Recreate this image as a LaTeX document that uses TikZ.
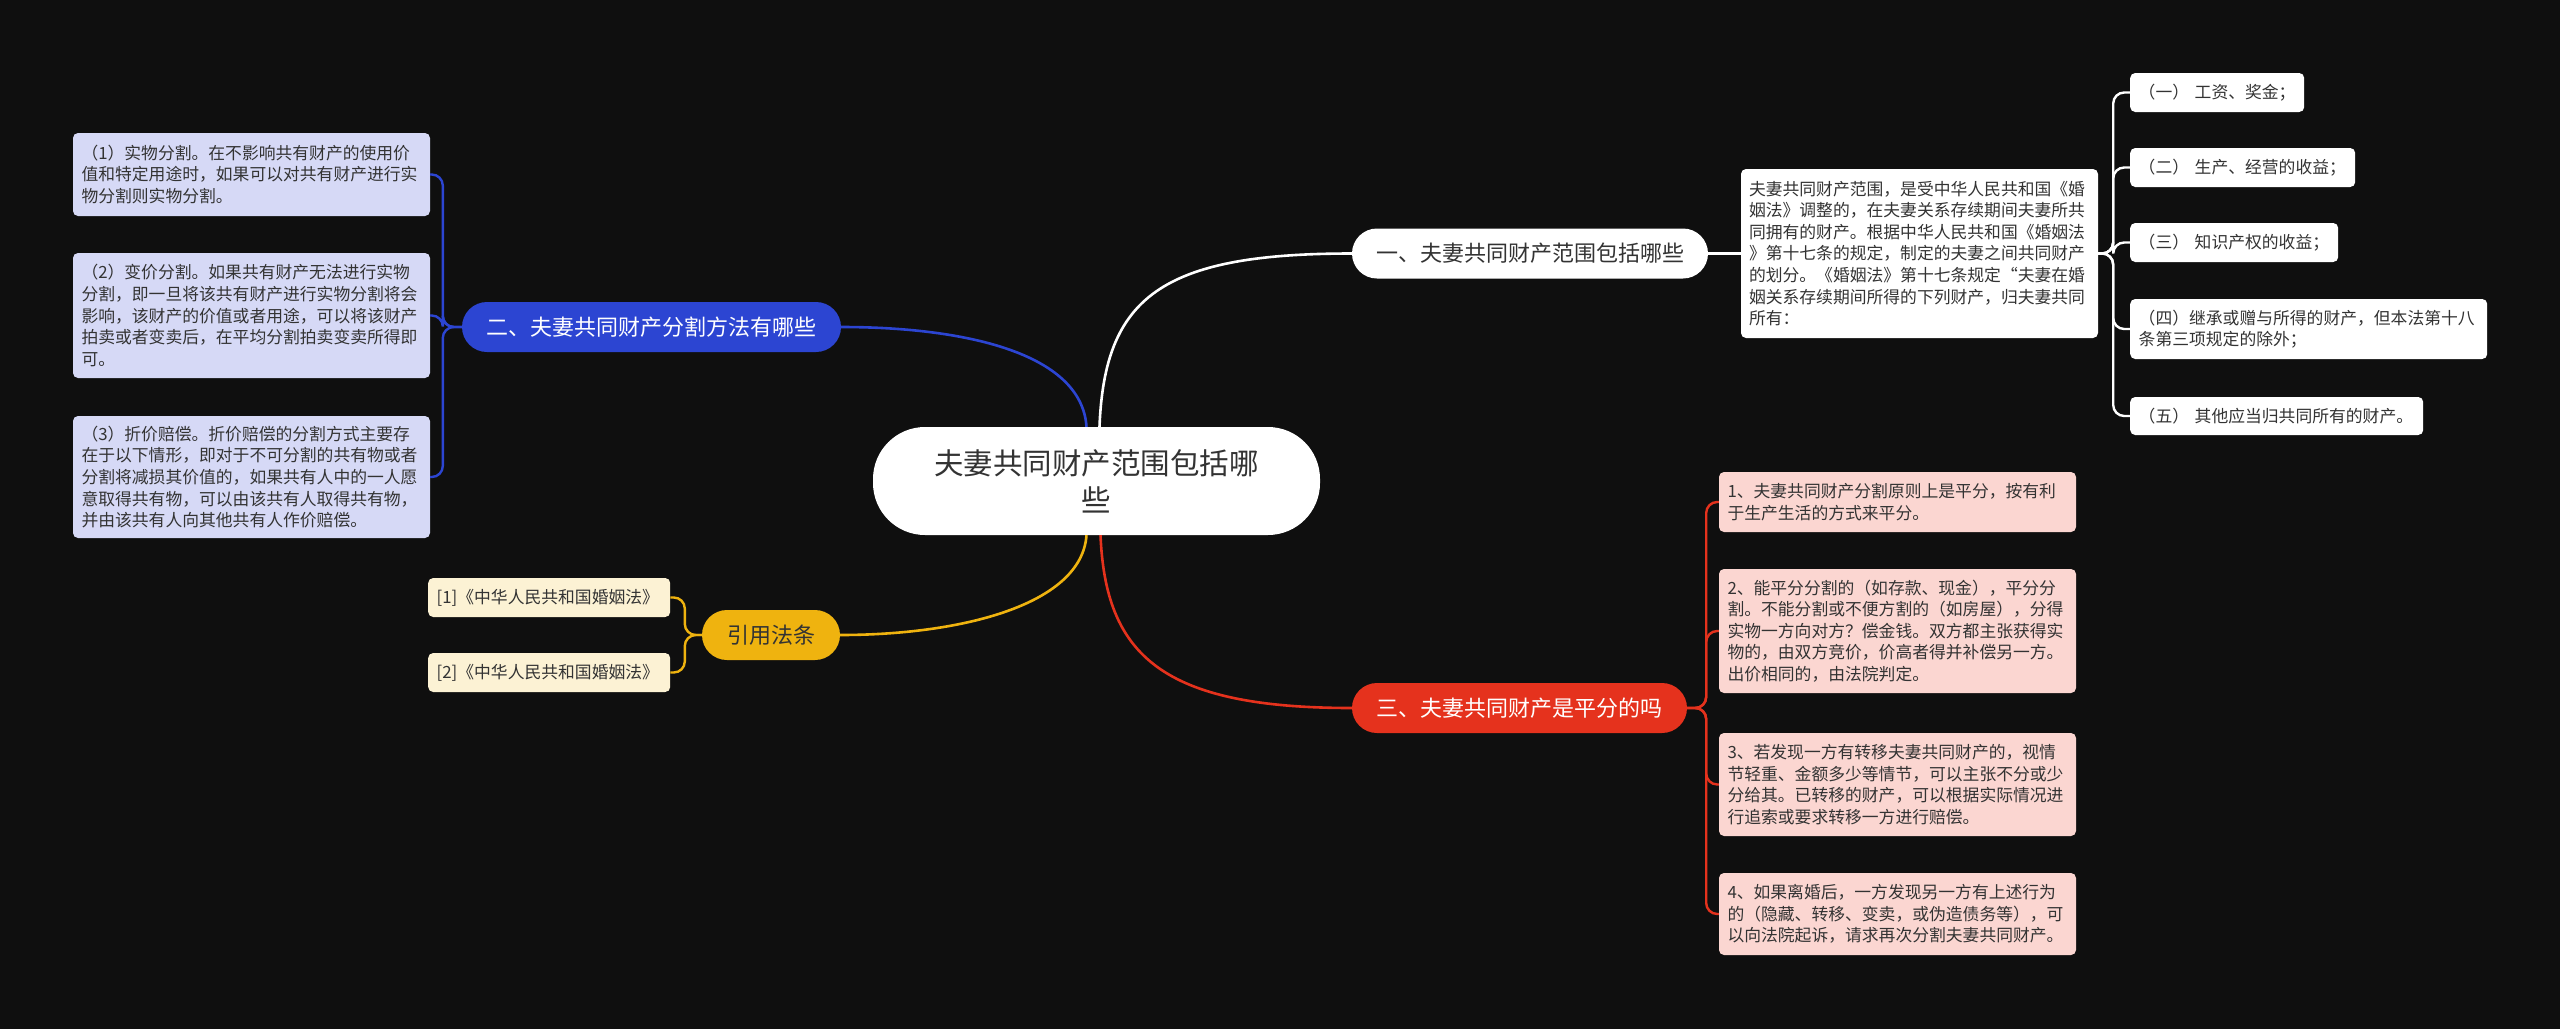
\documentclass[tikz,border=0pt]{standalone}
\usepackage{fontspec}
\setmainfont{Noto Sans CJK SC}
\newfontfamily\cjk{Noto Sans CJK SC}
\definecolor{bgc}{HTML}{0F0F0F}
\definecolor{txt}{HTML}{333333}
\definecolor{bluebr}{HTML}{2C45D2}
\definecolor{bluefill}{HTML}{D6D9F6}
\definecolor{redbr}{HTML}{E5321D}
\definecolor{redfill}{HTML}{FBD6D1}
\definecolor{yelbr}{HTML}{EFB30F}
\definecolor{yelfill}{HTML}{FCF2D4}
\begin{document}
\begin{tikzpicture}[x=1pt,y=-1pt,
  itembox/.style={rounded corners=5pt, inner xsep=8.5pt, inner ysep=0pt, align=left, text=txt,
    font=\cjk\fontsize{16.8}{21.6}\selectfont},
  branchbox/.style={rounded corners=25pt, minimum height=50pt, inner xsep=0pt, inner ysep=0pt,
    font=\cjk\fontsize{22}{26}\selectfont},
  mline/.style={line width=2.6pt},
  bline/.style={line width=2.4pt, rounded corners=11pt}]
\useasboundingbox (0,0) rectangle (2560,1029);
\fill[bgc] (0,0) rectangle (2560,1029);

% root
\node[rounded corners=52pt, fill=white, text=txt, minimum width=447pt, minimum height=108pt,
  align=center, font=\cjk\fontsize{29.5}{37}\selectfont] (root) at (1096.5,481)
  {夫妻共同财产范围包括哪\\些};

% branches
\node[branchbox, fill=white, text=txt, minimum width=356pt] (b1) at (1530,253.5) {一、夫妻共同财产范围包括哪些};
\node[branchbox, fill=bluebr, text=white, minimum width=379pt] (b2) at (651.5,327) {二、夫妻共同财产分割方法有哪些};
\node[branchbox, fill=redbr, text=white, minimum width=335pt] (b3) at (1519.5,708) {三、夫妻共同财产是平分的吗};
\node[branchbox, fill=yelbr, text=txt, minimum width=138pt] (b4) at (771,635) {引用法条};

% white detail
\node[itembox, fill=white, text width=341pt, inner xsep=8pt, minimum height=169pt] (d1) at (1919.5,253.5)
  {夫妻共同财产范围，是受中华人民共和国《婚\\姻法》调整的，在夫妻关系存续期间夫妻所共\\同拥有的财产。根据中华人民共和国《婚姻法\\》第十七条的规定，制定的夫妻之间共同财产\\的划分。《婚姻法》第十七条规定“夫妻在婚\\姻关系存续期间所得的下列财产，归夫妻共同\\所有：};

% white items
\node[itembox, fill=white, anchor=west, text width=157pt, minimum height=39pt] (w1) at (2130,92.5) {（一）~工资、奖金；};
\node[itembox, fill=white, anchor=west, text width=208pt, minimum height=39pt] (w2) at (2130,167.5) {（二）~生产、经营的收益；};
\node[itembox, fill=white, anchor=west, text width=191pt, minimum height=39pt] (w3) at (2130,242.5) {（三）~知识产权的收益；};
\node[itembox, fill=white, anchor=west, text width=340pt, minimum height=60pt] (w4) at (2130,329) {（四）继承或赠与所得的财产，但本法第十八\\条第三项规定的除外；};
\node[itembox, fill=white, anchor=west, text width=276pt, minimum height=38pt] (w5) at (2130,416) {（五）~其他应当归共同所有的财产。};

% blue items
\node[itembox, fill=bluefill, text width=340pt, minimum height=83pt] (l1) at (251.5,174.5)
  {（1）实物分割。在不影响共有财产的使用价\\值和特定用途时，如果可以对共有财产进行实\\物分割则实物分割。};
\node[itembox, fill=bluefill, text width=340pt, minimum height=125pt] (l2) at (251.5,315.5)
  {（2）变价分割。如果共有财产无法进行实物\\分割，即一旦将该共有财产进行实物分割将会\\影响，该财产的价值或者用途，可以将该财产\\拍卖或者变卖后，在平均分割拍卖变卖所得即\\可。};
\node[itembox, fill=bluefill, text width=340pt, minimum height=122pt] (l3) at (251.5,477)
  {（3）折价赔偿。折价赔偿的分割方式主要存\\在于以下情形，即对于不可分割的共有物或者\\分割将减损其价值的，如果共有人中的一人愿\\意取得共有物，可以由该共有人取得共有物，\\并由该共有人向其他共有人作价赔偿。};

% yellow items
\node[itembox, fill=yelfill, anchor=west, text width=225pt, minimum height=39pt] (y1) at (428,597.5) {[1]《中华人民共和国婚姻法》};
\node[itembox, fill=yelfill, anchor=west, text width=225pt, minimum height=39pt] (y2) at (428,672.5) {[2]《中华人民共和国婚姻法》};

% red items
\node[itembox, fill=redfill, text width=340pt, minimum height=60pt] (r1) at (1897.5,502)
  {1、夫妻共同财产分割原则上是平分，按有利\\于生产生活的方式来平分。};
\node[itembox, fill=redfill, text width=340pt, minimum height=124pt] (r2) at (1897.5,631)
  {2、能平分分割的（如存款、现金），平分分\\割。不能分割或不便方割的（如房屋），分得\\实物一方向对方？偿金钱。双方都主张获得实\\物的，由双方竞价，价高者得并补偿另一方。\\出价相同的，由法院判定。};
\node[itembox, fill=redfill, text width=340pt, minimum height=103pt] (r3) at (1897.5,784.5)
  {3、若发现一方有转移夫妻共同财产的，视情\\节轻重、金额多少等情节，可以主张不分或少\\分给其。已转移的财产，可以根据实际情况进\\行追索或要求转移一方进行赔偿。};
\node[itembox, fill=redfill, text width=340pt, minimum height=82pt] (r4) at (1897.5,914)
  {4、如果离婚后，一方发现另一方有上述行为\\的（隐藏、转移、变卖，或伪造债务等），可\\以向法院起诉，请求再次分割夫妻共同财产。};

% main connectors
\draw[mline, white] ([xshift=3pt]root.north) .. controls +(5,-130) and +(-190,0) .. (b1.west);
\draw[mline, bluebr] ([xshift=-10pt]root.north) .. controls +(-5,-75) and +(120,0) .. (b2.east);
\draw[mline, yelbr] ([xshift=-10pt]root.south) .. controls +(-5,70) and +(120,0) .. (b4.east);
\draw[mline, redbr] ([xshift=4pt]root.south) .. controls +(5,120) and +(-190,0) .. (b3.west);

\draw[mline, white] (b1.east) -- (d1.west);

% brackets
\foreach \n in {w1,w2,w3,w4,w5} \draw[bline, white] (d1.east) -- ++(15,0) |- (\n.west);
\foreach \n in {l1,l2,l3} \draw[bline, bluebr] (b2.west) -- ++(-19,0) |- (\n.east);
\foreach \n in {y1,y2} \draw[bline, yelbr] (b4.west) -- ++(-17,0) |- (\n.east);
\foreach \n in {r1,r2,r3,r4} \draw[bline, redbr] (b3.east) -- ++(19,0) |- (\n.west);
\end{tikzpicture}
\end{document}
